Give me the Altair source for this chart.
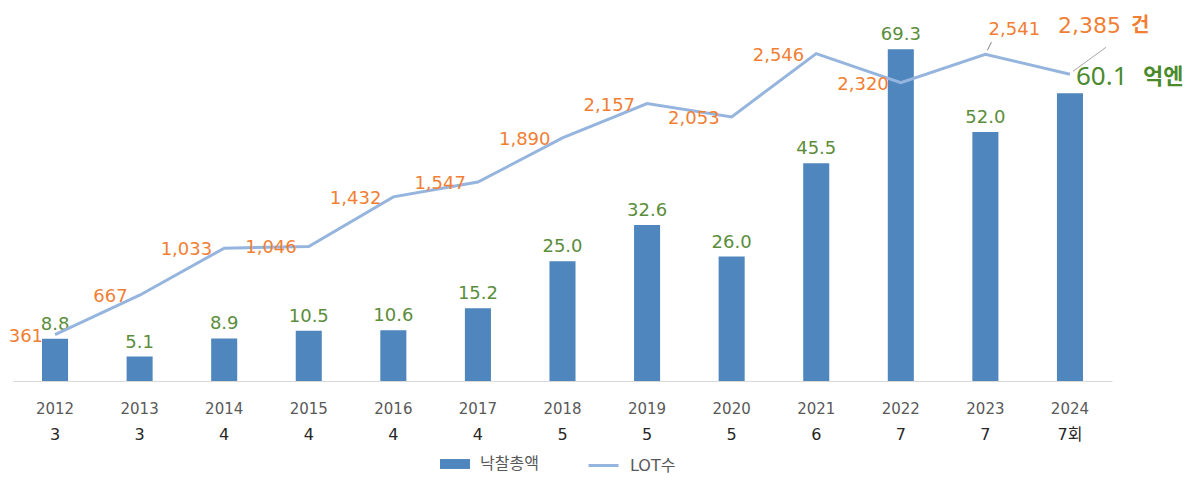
import altair as alt
import pandas as pd

years = ["2012", "2013", "2014", "2015", "2016", "2017", "2018", "2019", "2020", "2021", "2022", "2023", "2024"]
amounts = [8.8, 5.1, 8.9, 10.5, 10.6, 15.2, 25.0, 32.6, 26.0, 45.5, 69.3, 52.0, 60.1]
lots = [361, 667, 1033, 1046, 1432, 1547, 1890, 2157, 2053, 2546, 2320, 2541, 2385]
counts = ["3", "3", "4", "4", "4", "4", "5", "5", "5", "6", "7", "7", "7회"]
series_names = ["낙찰총액", "LOT수"]
units = ["억엔", "건"]

df = pd.DataFrame({"year": years, "amount": amounts, "lots": lots, "cnt": counts,
                   "s_bar": series_names[0], "s_line": series_names[1]})

FONT = "DejaVu Sans, Noto Sans CJK KR"
BIGFONT = "Noto Sans, Noto Sans CJK KR"
KFONT = "Noto Sans CJK KR"
BAR = "#4F86BD"
LINE = "#95B5DE"
GREEN = "#5B8D3B"
DGREEN = "#4B8A2C"
ORANGE = "#F07F35"

W, H = 1099, 371

X = alt.X("year:N", title=None, sort=years,
          scale=alt.Scale(paddingInner=0.692, paddingOuter=0.343),
          axis=alt.Axis(labelAngle=0, labelFontSize=15, labelColor="#595959", labelFont=FONT,
                        labelPadding=20, ticks=False, domainColor="#D9D9D9", domainWidth=1.2,
                        grid=False))
YB = alt.Y("amount:Q", scale=alt.Scale(domain=[0, 77.5], nice=False), axis=None, title=None)
YL = alt.Y("lots:Q", scale=alt.Scale(domain=[0, 2885], nice=False), axis=None, title=None)

base = alt.Chart(df).encode(x=X)
last = base.transform_filter(alt.datum.year == "2024")

bars = base.mark_bar().encode(
    y=YB,
    fill=alt.Fill("s_bar:N", scale=alt.Scale(domain=[series_names[0]], range=[BAR]),
                  legend=alt.Legend(orient="none", legendX=427, legendY=439, title=None,
                                    symbolType="M-1,-0.33H1V0.33H-1Z", symbolSize=900,
                                    symbolStrokeWidth=0, labelFontSize=16, labelColor="#595959",
                                    labelFont=FONT, labelOffset=10)),
)

bar_labels = base.transform_filter(alt.datum.year != "2024").mark_text(
    baseline="alphabetic", dy=-9, fontSize=18, color=GREEN, font=FONT
).encode(y=YB, text=alt.Text("amount:Q", format=".1f"))

last_bar_num = last.mark_text(align="left", baseline="middle", dx=6, dy=-16, fontSize=26,
                              color=DGREEN, font=BIGFONT).encode(
    y=YB, text=alt.Text("amount:Q", format=".1f"))
last_bar_unit = last.transform_calculate(u=f"'{units[0]}'").mark_text(
    align="left", baseline="middle", dx=73, dy=-16, fontSize=22, color=DGREEN,
    font=KFONT, fontWeight="bold").encode(y=YB, text="u:N")

line = base.mark_line(strokeWidth=3).encode(
    y=YL,
    stroke=alt.Stroke("s_line:N", scale=alt.Scale(domain=[series_names[1]], range=[LINE]),
                      legend=alt.Legend(orient="none", legendX=574, legendY=439, title=None,
                                        symbolType="stroke", symbolSize=900, symbolStrokeWidth=3,
                                        labelFontSize=16, labelColor="#595959",
                                        labelFont=FONT, labelOffset=10)),
)

line_labels = base.transform_filter(
    (alt.datum.year != "2023") & (alt.datum.year != "2024")
).mark_text(align="right", baseline="middle", dx=-12, dy=2, fontSize=18, color=ORANGE,
            font=FONT).encode(y=YL, text=alt.Text("lots:Q", format=","))

label_2023 = base.transform_filter(alt.datum.year == "2023").mark_text(
    align="center", baseline="middle", dx=29, dy=-24, fontSize=18, color=ORANGE, font=FONT
).encode(y=YL, text=alt.Text("lots:Q", format=","))

leader_2023 = base.transform_filter(alt.datum.year == "2023").mark_rule(
    color="#7F7F7F", strokeWidth=1, xOffset=2, yOffset=-4, x2Offset=6, y2Offset=-12
).encode(y=YL, x2=alt.X2("year:N"), y2=alt.Y2("lots:Q"))

last_line_num = last.mark_text(align="right", baseline="middle", dx=51, dy=-48, fontSize=22,
                               color=ORANGE, font=FONT).encode(
    y=YL, text=alt.Text("lots:Q", format=","))
last_line_unit = last.transform_calculate(u=f"'{units[1]}'").mark_text(
    align="left", baseline="middle", dx=61, dy=-48, fontSize=20, color=ORANGE,
    font=KFONT, fontWeight="bold").encode(y=YL, text="u:N")

leader_2024 = last.mark_rule(
    color="#A6A6A6", strokeWidth=1, xOffset=3, yOffset=-3, x2Offset=36, y2Offset=-27
).encode(y=YL, x2=alt.X2("year:N"), y2=alt.Y2("lots:Q"))

count_row = base.mark_text(baseline="middle", fontSize=16, color="#262626", font=FONT).encode(
    y=alt.value(H + 54), text="cnt:N"
)

chart = alt.layer(
    bars, bar_labels, last_bar_num, last_bar_unit, line, line_labels, label_2023, leader_2023,
    last_line_num, last_line_unit, leader_2024, count_row
).resolve_scale(y="independent").properties(
    width=W, height=H,
    autosize=alt.AutoSizeParams(type="none"),
    padding={"left": 5, "top": 2, "right": 79, "bottom": 93},
).configure_view(stroke=None)

chart.save("out.html", embed_options={"renderer": "svg", "actions": False})
